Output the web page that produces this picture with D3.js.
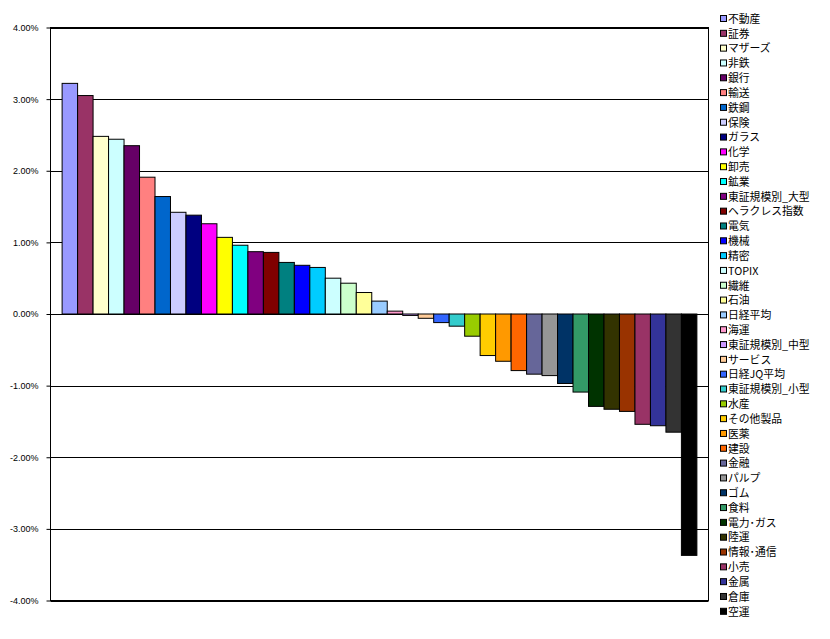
<!DOCTYPE html>
<html><head><meta charset="utf-8">
<script src="https://cdn.jsdelivr.net/npm/d3@7"></script>
<style>body{margin:0;background:#fff}svg{display:block}</style>
</head><body>
<script>
const categories = ["不動産","証券","マザーズ","非鉄","銀行","輸送","鉄鋼","保険","ガラス","化学","卸売","鉱業","東証規模別_大型","ヘラクレス指数","電気","機械","精密","TOPIX","繊維","石油","日経平均","海運","東証規模別_中型","サービス","日経JQ平均","東証規模別_小型","水産","その他製品","医薬","建設","金融","パルプ","ゴム","食料","電力･ガス","陸運","情報･通信","小売","金属","倉庫","空運"];
const values = [3.22,3.05,2.48,2.44,2.35,1.91,1.64,1.42,1.38,1.26,1.07,0.96,0.87,0.86,0.72,0.68,0.65,0.50,0.43,0.30,0.18,0.04,-0.02,-0.06,-0.12,-0.17,-0.31,-0.58,-0.66,-0.79,-0.84,-0.86,-0.97,-1.09,-1.29,-1.33,-1.36,-1.54,-1.56,-1.65,-3.37];
const colors = ["#9999FF","#993366","#FFFFCC","#CCFFFF","#660066","#FF8080","#0066CC","#CCCCFF","#000080","#FF00FF","#FFFF00","#00FFFF","#800080","#800000","#008080","#0000FF","#00CCFF","#CCFFFF","#CCFFCC","#FFFF99","#99CCFF","#FF99CC","#CC99FF","#FFCC99","#3366FF","#33CCCC","#99CC00","#FFCC00","#FF9900","#FF6600","#666699","#969696","#003366","#339966","#003300","#333300","#993300","#993366","#333399","#333333","#000000"];
const yTicks = [4,3,2,1,0,-1,-2,-3,-4];

const W = 830, H = 639;
const svg = d3.select("body").append("svg").attr("width", W).attr("height", H);
const L = 50.5, R = 708.5, T = 27.5, B = 600.5;

const x = d3.scaleBand().domain(categories).range([L, R]).paddingInner(0).paddingOuter(0.75);
const y = d3.scaleLinear().domain([-4, 4]).range([B, T]);

// gridlines
svg.append("g").selectAll("line").data(yTicks).join("line")
  .attr("x1", L).attr("x2", R)
  .attr("y1", d => Math.round(y(d)) + 0.5).attr("y2", d => Math.round(y(d)) + 0.5)
  .attr("stroke", "#000").attr("stroke-width", 1);

// bars
const data = categories.map((c, i) => ({c, v: values[i], col: colors[i]}));
svg.append("g").selectAll("rect").data(data).join("rect")
  .attr("x", d => x(d.c))
  .attr("width", x.bandwidth())
  .attr("y", d => y(Math.max(0, d.v)))
  .attr("height", d => Math.abs(y(d.v) - y(0)))
  .attr("fill", d => d.col)
  .attr("stroke", "#000").attr("stroke-width", 1);

// plot border
svg.append("rect").attr("x", L).attr("y", T).attr("width", R - L).attr("height", B - T)
  .attr("fill", "none").attr("stroke", "#000").attr("stroke-width", 1);

// y axis
const fmt = d => (d < 0 ? "-" : "") + Math.abs(d).toFixed(2) + "%";
const yAxis = d3.axisLeft(y).tickValues(yTicks).tickSize(4).tickPadding(8).tickFormat(fmt);
const ga = svg.append("g").attr("transform", `translate(${L},0)`).call(yAxis);
ga.select(".domain").remove();
ga.selectAll(".tick line").attr("stroke", "#000");
ga.selectAll("text").attr("font-family", "Liberation Sans, Arial, sans-serif").attr("font-size", 9).attr("fill", "#000");

// legend
const lg = svg.append("g").attr("font-family", "'Noto Sans CJK JP', sans-serif").attr("font-size", 10.2);
const rowH = 14.82, ly0 = 19;
const items = lg.selectAll("g").data(data).join("g")
  .attr("transform", (d, i) => `translate(720,${ly0 + i * rowH})`);
items.append("rect").attr("x", 0.5).attr("y", -3.5).attr("width", 6).attr("height", 6)
  .attr("fill", d => d.col).attr("stroke", "#000").attr("stroke-width", 1);
items.append("text").attr("x", 8).attr("y", 0).attr("dy", "0.35em").text(d => d.c).attr("fill", "#000")
  .attr("transform", "scale(1.06,1.06)").attr("transform-origin", "8 0");
</script>
</body></html>
